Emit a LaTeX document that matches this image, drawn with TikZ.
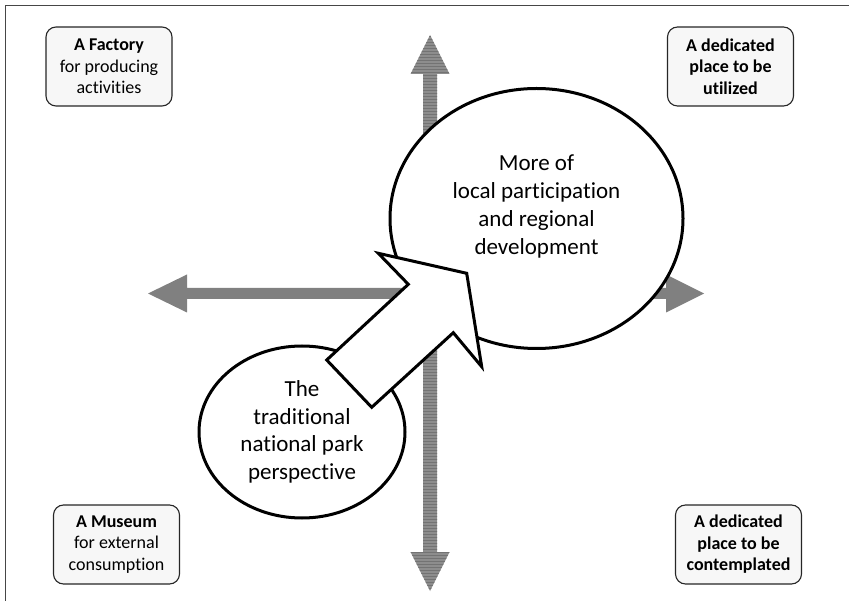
\documentclass[tikz,border=0pt]{standalone}
\usepackage{fontspec}
\setmainfont{Carlito}[Ligatures=NoCommon]
\usetikzlibrary{shapes.geometric, patterns, positioning, calc}
\definecolor{axisgray}{RGB}{128,128,128}
\definecolor{framegray}{RGB}{70,70,70}
\tikzset{
	stance/.style={draw=black!85, line width=1.1pt, fill=gray!6, rounded corners=10pt, minimum width=126pt, minimum height=79pt, align=center, inner sep=2pt, font=\fontsize{18}{21.5}\selectfont},
	view/.style={ellipse, draw, line width=3pt, fill=white, inner sep=0pt, align=center, font=\fontsize{23}{27.7}\selectfont},
	viewtext/.style={align=center, inner sep=0pt, font=\fontsize{23}{27.7}\selectfont}
}
\begin{document}
\begin{tikzpicture}[x=1pt, y=-1pt]
					\useasboundingbox (0,0) rectangle (849,601);
					\draw[framegray, line width=1.5pt] (5.5,601) -- (5.5,5.5) -- (849,5.5);
					\coordinate (west) at (148,293.5);
					\coordinate (east) at (704,293.5);
					\coordinate (north) at (430,35);
					\coordinate (south) at (430,591);
					\fill[axisgray] (west) -- ++(39,-19) -- ++(0,13.5) -- ($(east)+(-38,-5.5)$) -- ++(0,-13.5) -- (east) -- ++(-38,19) -- ++(0,-13.5) -- ($(west)+(39,5.5)$) -- ++(0,13.5) -- cycle;
					\fill[axisgray!90] (north) -- ++(19.5,39) -- ++(-12.5,0) -- ($(south)+(7,-39)$) -- ++(12.5,0) -- (south) -- ++(-19.5,-39) -- ++(12.5,0) -- ($(north)+(-7,39)$) -- ++(-12.5,0) -- cycle;
					\fill[pattern=horizontal lines, pattern color=black!55] (north) -- ++(19.5,39) -- ++(-12.5,0) -- ($(south)+(7,-39)$) -- ++(12.5,0) -- (south) -- ++(-19.5,-39) -- ++(12.5,0) -- ($(north)+(-7,39)$) -- ++(-12.5,0) -- cycle;
					\node[stance] (factory) at (109,66.5) {\textbf{A Factory}\\for producing\\activities};
					\node[stance] (utilized) at (730.5,66.5) {\textbf{A dedicated}\\\textbf{place to be}\\\textbf{utilized}};
					\node[stance] (museum) at (116.5,544.5) {\textbf{A Museum}\\for external\\consumption};
					\node[stance] (contemplated) at (738.5,544.5) {\textbf{A dedicated}\\\textbf{place to be}\\\textbf{contemplated}};
					\node[view, minimum width=206pt, minimum height=172pt] (traditional) at (302,432) {The\\traditional\\national park\\perspective};
					\node[view, minimum width=293pt, minimum height=260pt] (local) at (536.5,218.5) {};
					\node[viewtext] (localtext) at ([yshift=12pt]local.center) {More of\\local participation\\and regional\\development};
					\draw[line width=3pt, fill=white, line join=miter] (378.3,253.3) -- (466.7,273.3) -- (481.7,366.7) -- (453.3,332.7) -- (371.7,407.3) -- (326.7,360) -- (408.3,284.3) -- cycle;
			\end{tikzpicture}
\end{document}
